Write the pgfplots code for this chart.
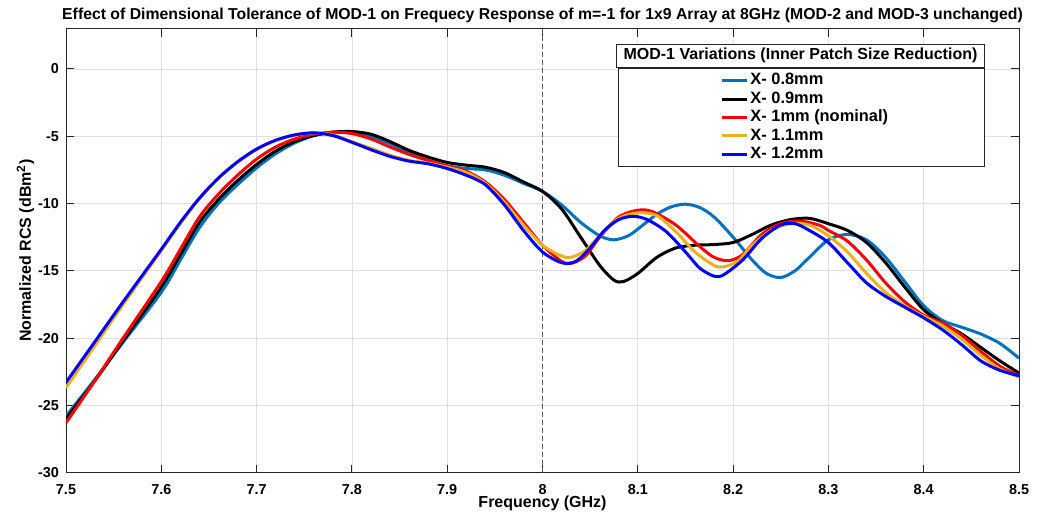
\documentclass[border=0pt]{standalone}
\usepackage{fontspec}
\setmainfont{Liberation Sans}
\usepackage{pgfplots}
\pgfplotsset{compat=1.18}
\usetikzlibrary{calc}

\definecolor{mblue}{rgb}{0,0.447,0.741}
\definecolor{myellow}{rgb}{0.929,0.694,0.125}
\definecolor{axgray}{rgb}{0.15,0.15,0.15}

\newcommand{\legtext}[1]{\makebox[116pt][l]{#1}}

\begin{document}
\begin{tikzpicture}
\begin{axis}[
  name=ax,
  scale only axis,
  width=476.5pt, height=222pt,
  xmin=7.5, xmax=8.5, ymin=-30, ymax=3,
  xtick={7.5,7.6,7.7,7.8,7.9,8,8.1,8.2,8.3,8.4,8.5},
  ytick={-30,-25,-20,-15,-10,-5,0},
  grid=major,
  major grid style={draw=black!12, line width=0.4pt},
  axis line style={draw=axgray, line width=0.5pt},
  tick style={draw=axgray, line width=0.5pt},
  tick align=inside,
  major tick length=4pt,
  /pgf/number format/assume math mode=true,
  ticklabel style={font=\bfseries\fontsize{7.2}{8}\selectfont},
  xticklabel style={yshift=-2.5pt},
  yticklabel style={xshift=0pt},
  title={Effect of Dimensional Tolerance of MOD-1 on Frequecy Response of m=-1 for 1x9 Array at 8GHz (MOD-2 and MOD-3 unchanged)},
  title style={font=\bfseries\fontsize{7.9}{9}\selectfont, at={(0.5,1)}, anchor=south, yshift=-6.8pt},
  xlabel={Frequency (GHz)},
  xlabel style={font=\bfseries\fontsize{8}{9}\selectfont, at={(rel axis cs:0.5,-0.036)}, anchor=north},
  ylabel={Normalized RCS (dBm\textsuperscript{2})},
  ylabel style={font=\bfseries\fontsize{8}{9}\selectfont, at={(rel axis cs:-0.026,0.5)}, anchor=south},
  legend cell align=left,
  legend image code/.code={\path (-51pt,0pt); \draw[#1] (0pt,0pt) -- (12.5pt,0pt);},
  legend style={at={(rel axis cs:0.9643,0.912)}, anchor=north east,
    draw=axgray, fill=white, line width=0.5pt,
    font=\bfseries\fontsize{8.2}{9}\selectfont,
    inner xsep=0pt, inner ysep=1.8pt, row sep=0.2pt,
    nodes={inner xsep=1pt, inner ysep=0.6pt, text height=6pt, text depth=1.8pt}},
]

\addplot[forget plot, draw=black!65, line width=0.6pt, dash pattern=on 2.5pt off 1.5pt] coordinates {(8,-30) (8,3)};

% X- 0.8mm
\addplot[mblue, line width=1.5pt, smooth] coordinates {
(7.50,-25.8) (7.53,-23.1) (7.56,-20.3) (7.60,-16.6) (7.62,-14.2) (7.64,-11.8)
(7.66,-10.0) (7.68,-8.6) (7.70,-7.35) (7.72,-6.3) (7.74,-5.5) (7.76,-4.95)
(7.78,-4.7) (7.80,-4.7) (7.82,-5.0) (7.84,-5.55) (7.86,-6.2) (7.88,-6.8)
(7.90,-7.2) (7.92,-7.4) (7.94,-7.5) (7.96,-7.9) (7.98,-8.5) (8.00,-9.1)
(8.02,-10.1) (8.04,-11.4) (8.06,-12.4) (8.075,-12.7) (8.09,-12.4) (8.10,-11.9)
(8.12,-10.8) (8.135,-10.25) (8.15,-10.05) (8.165,-10.3) (8.18,-11.0) (8.20,-12.5)
(8.22,-14.2) (8.235,-15.2) (8.25,-15.5) (8.265,-15.0) (8.28,-14.0) (8.30,-12.7)
(8.32,-12.3) (8.34,-12.7) (8.36,-14.0) (8.38,-15.8) (8.40,-17.6) (8.42,-18.7)
(8.44,-19.2) (8.46,-19.7) (8.48,-20.4) (8.50,-21.5)
};
\addlegendentry{\legtext{X- 0.8mm}}

% X- 0.9mm
\addplot[black, line width=1.5pt, smooth] coordinates {
(7.50,-26.0) (7.53,-23.2) (7.56,-20.2) (7.60,-16.2) (7.62,-13.8) (7.64,-11.4)
(7.66,-9.7) (7.68,-8.3) (7.70,-7.1) (7.72,-6.1) (7.74,-5.4) (7.76,-4.95)
(7.78,-4.7) (7.80,-4.65) (7.82,-4.85) (7.84,-5.4) (7.86,-6.05) (7.88,-6.55)
(7.90,-6.95) (7.92,-7.15) (7.94,-7.3) (7.96,-7.7) (7.98,-8.4) (8.00,-9.1)
(8.02,-10.4) (8.04,-12.5) (8.06,-14.6) (8.075,-15.7) (8.085,-15.8) (8.10,-15.2)
(8.12,-14.0) (8.14,-13.3) (8.16,-13.1) (8.18,-13.05) (8.20,-12.9) (8.22,-12.3)
(8.24,-11.6) (8.26,-11.2) (8.28,-11.1) (8.30,-11.5) (8.32,-12.0) (8.34,-12.9)
(8.36,-14.4) (8.38,-16.2) (8.40,-17.9) (8.42,-18.9) (8.44,-19.7) (8.46,-20.7)
(8.48,-21.7) (8.50,-22.6)
};
\addlegendentry{\legtext{X- 0.9mm}}

% X- 1mm (nominal)
\addplot[red, line width=1.5pt, smooth] coordinates {
(7.50,-26.3) (7.53,-23.2) (7.56,-20.0) (7.60,-15.8) (7.62,-13.4) (7.64,-11.0)
(7.66,-9.3) (7.68,-7.9) (7.70,-6.7) (7.72,-5.8) (7.74,-5.2) (7.76,-4.85)
(7.78,-4.7) (7.80,-4.8) (7.82,-5.2) (7.84,-5.8) (7.86,-6.35) (7.88,-6.8)
(7.90,-7.2) (7.92,-7.6) (7.94,-8.4) (7.96,-9.7) (7.98,-11.4) (8.00,-13.1)
(8.02,-14.3) (8.03,-14.45) (8.045,-13.9) (8.06,-12.5) (8.08,-11.0) (8.10,-10.5)
(8.115,-10.6) (8.14,-11.6) (8.165,-13.2) (8.18,-14.0) (8.195,-14.25) (8.21,-13.8)
(8.23,-12.3) (8.25,-11.5) (8.27,-11.3) (8.29,-11.6) (8.30,-12.0) (8.32,-12.8)
(8.34,-14.2) (8.36,-15.9) (8.38,-17.3) (8.40,-18.3) (8.42,-18.9) (8.44,-19.8)
(8.46,-21.0) (8.48,-22.1) (8.50,-22.8)
};
\addlegendentry{\legtext{X- 1mm (nominal)}}

% X- 1.1mm
\addplot[myellow, line width=1.5pt, smooth] coordinates {
(7.50,-23.7) (7.53,-20.6) (7.56,-17.5) (7.60,-13.5) (7.62,-11.5) (7.64,-9.65)
(7.66,-8.15) (7.68,-6.95) (7.70,-6.0) (7.72,-5.3) (7.74,-4.9) (7.76,-4.75)
(7.78,-4.9) (7.80,-5.4) (7.82,-5.9) (7.84,-6.4) (7.86,-6.8) (7.88,-7.0)
(7.90,-7.3) (7.92,-7.7) (7.94,-8.5) (7.96,-9.9) (7.98,-11.6) (8.00,-13.1)
(8.02,-13.9) (8.03,-14.0) (8.045,-13.5) (8.06,-12.4) (8.08,-11.1) (8.10,-10.7)
(8.12,-10.9) (8.14,-12.1) (8.16,-13.6) (8.18,-14.6) (8.19,-14.7) (8.205,-14.3)
(8.22,-13.1) (8.24,-12.0) (8.26,-11.5) (8.28,-11.6) (8.30,-12.4) (8.32,-13.6)
(8.34,-15.2) (8.36,-16.6) (8.38,-17.6) (8.40,-18.4) (8.42,-19.1) (8.44,-20.1)
(8.46,-21.3) (8.48,-22.3) (8.50,-22.9)
};
\addlegendentry{\legtext{X- 1.1mm}}

% X- 1.2mm
\addplot[blue, line width=1.5pt, smooth] coordinates {
(7.50,-23.3) (7.53,-20.3) (7.56,-17.3) (7.60,-13.4) (7.62,-11.4) (7.64,-9.6)
(7.66,-8.1) (7.68,-6.9) (7.70,-5.95) (7.72,-5.3) (7.74,-4.9) (7.76,-4.75)
(7.78,-4.95) (7.80,-5.45) (7.82,-6.0) (7.84,-6.5) (7.86,-6.85) (7.88,-7.05)
(7.90,-7.4) (7.92,-7.9) (7.94,-8.6) (7.96,-10.1) (7.98,-12.0) (8.00,-13.6)
(8.02,-14.4) (8.035,-14.3) (8.05,-13.3) (8.065,-12.0) (8.08,-11.2) (8.095,-10.95)
(8.11,-11.2) (8.13,-12.1) (8.15,-13.6) (8.165,-14.8) (8.18,-15.4) (8.19,-15.3)
(8.21,-14.2) (8.23,-12.6) (8.25,-11.6) (8.265,-11.5) (8.28,-12.0) (8.30,-12.9)
(8.32,-14.4) (8.34,-15.9) (8.36,-16.9) (8.38,-17.7) (8.40,-18.5) (8.42,-19.4)
(8.44,-20.5) (8.46,-21.7) (8.48,-22.4) (8.50,-22.8)
};
\addlegendentry{\legtext{X- 1.2mm}}

\node[draw=axgray, fill=white, line width=0.5pt, anchor=south east,
  minimum width=184pt, minimum height=11.5pt, inner sep=0pt,
  font=\bfseries\fontsize{8}{9}\selectfont]
  at (rel axis cs:0.9643,0.912) {MOD-1 Variations (Inner Patch Size Reduction)};
\end{axis}
\pgfresetboundingbox
\path ($(ax.south west)+(-33pt,-20pt)$) rectangle ($(ax.north east)+(14.5pt,14.3pt)$);
\end{tikzpicture}
\end{document}
